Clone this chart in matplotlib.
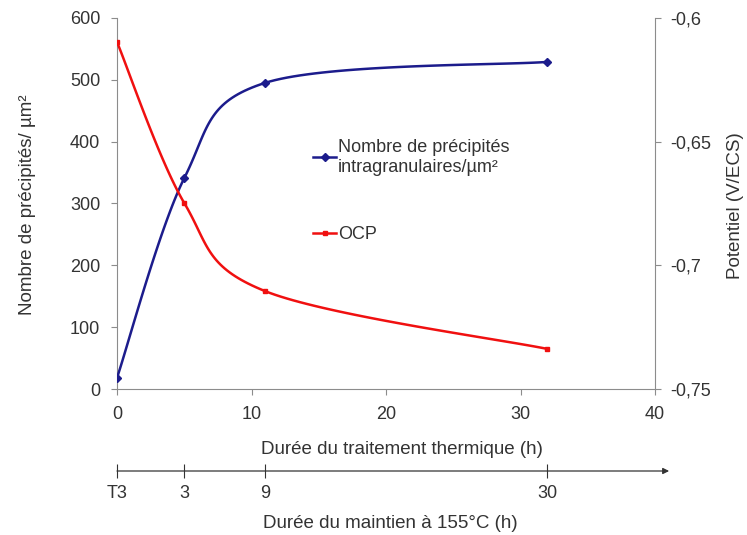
import numpy as np
import matplotlib.pyplot as plt
from matplotlib.ticker import FuncFormatter

plt.rcParams["font.family"] = ["Liberation Sans", "DejaVu Sans"]

# data
duree_h = [0, 5, 11, 32]
nb_precipites = [18, 341, 495, 529]
ocp = [-0.6097, -0.6748, -0.7104, -0.7338]
maintien_labels = ["T3", "3", "9", "30"]

BLUE = "#1c1c8c"
RED = "#f01010"
GREY = "#8c8c8c"
TXT = "#333333"
FS = 13


def smooth(x, y, n=40):
    """Excel-like smoothed line (Catmull-Rom bezier through the points)."""
    x = np.asarray(x, float)
    y = np.asarray(y, float)
    px = np.concatenate([[x[0]], x, [x[-1]]])
    py = np.concatenate([[y[0]], y, [y[-1]]])
    xs, ys = [], []
    t = np.linspace(0, 1, n)
    for i in range(1, len(px) - 2):
        p0 = np.array([px[i], py[i]])
        p3 = np.array([px[i + 1], py[i + 1]])
        p1 = p0 + (np.array([px[i + 1], py[i + 1]]) - np.array([px[i - 1], py[i - 1]])) / 6
        p2 = p3 - (np.array([px[i + 2], py[i + 2]]) - np.array([px[i], py[i]])) / 6
        b = ((1 - t) ** 3)[:, None] * p0 + (3 * (1 - t) ** 2 * t)[:, None] * p1 \
            + (3 * (1 - t) * t ** 2)[:, None] * p2 + (t ** 3)[:, None] * p3
        xs.append(b[:, 0])
        ys.append(b[:, 1])
    return np.concatenate(xs), np.concatenate(ys)


fig = plt.figure(figsize=(7.47, 5.35), dpi=100)
ax = fig.add_axes([117 / 747, 146 / 535, 538 / 747, 371 / 535])
ax2 = ax.twinx()

sx, sy = smooth(duree_h, nb_precipites)
ax.plot(sx, sy, color=BLUE, lw=1.8, zorder=3)
ax.plot(duree_h, nb_precipites, ls="none", marker="D", ms=4.5, color=BLUE, zorder=4)

rx, ry = smooth(duree_h, ocp)
ax2.plot(rx, ry, color=RED, lw=1.8)
ax2.plot(duree_h, ocp, ls="none", marker="s", ms=3.5, color=RED)

ax.set_xlim(0, 40)
ax.set_ylim(0, 600)
ax2.set_ylim(-0.75, -0.6)
ax.set_xticks([0, 10, 20, 30, 40])
ax.set_yticks(range(0, 601, 100))
ax2.set_yticks([-0.75, -0.7, -0.65, -0.6])
ax2.yaxis.set_major_formatter(FuncFormatter(lambda v, p: f"{v:g}".replace(".", ",")))

for a in (ax, ax2):
    for s in a.spines.values():
        s.set_color(GREY)
    a.spines["top"].set_visible(False)
    a.tick_params(colors=GREY, labelcolor=TXT, labelsize=FS, length=4, width=0.8)
ax.tick_params(axis="y", pad=8)
ax.tick_params(axis="x", pad=8)
ax2.tick_params(axis="y", pad=7)
ax.spines["right"].set_visible(False)
ax2.spines["left"].set_visible(False)
ax2.spines["bottom"].set_visible(False)

fig.text(28 / 747, 1 - 205 / 535, "Nombre de précipités/ µm²", rotation=90,
         ha="center", va="center", fontsize=FS + 0.5, color=TXT)
fig.text(736 / 747, 1 - 206 / 535, "Potentiel (V/ECS)", rotation=90,
         ha="center", va="center", fontsize=FS + 0.5, color=TXT)
fig.text(402 / 747, 1 - 450 / 535, "Durée du traitement thermique (h)",
         ha="center", va="center", fontsize=FS + 0.5, color=TXT)
fig.text(390 / 747, 1 - 524 / 535, "Durée du maintien à 155°C (h)",
         ha="center", va="center", fontsize=FS + 0.5, color=TXT)

# legend inside plot
h1, = ax.plot([], [], color=BLUE, lw=1.8, marker="D", ms=4)
h2, = ax.plot([], [], color=RED, lw=1.8, marker="s", ms=3)
leg = ax.legend([h1, h2], ["Nombre de précipités\nintragranulaires/µm²", "OCP"],
                loc="upper left", bbox_to_anchor=(0.364, 0.674), frameon=False,
                borderpad=0, borderaxespad=0, fontsize=FS, handlelength=1.3,
                handletextpad=0.1, labelspacing=2.8, labelcolor=TXT)
for t in leg.get_texts():
    t.set_linespacing(1.2)

# second time axis (duree du maintien)
ax3 = fig.add_axes([117 / 747, 64 / 535, 538 / 747, 0.001])
ax3.set_xlim(0, 40)
ax3.set_ylim(0, 1)
for s in ("top", "left", "right", "bottom"):
    ax3.spines[s].set_visible(False)
ax3.set_yticks([])
ax3.set_xticks(duree_h)
ax3.set_xticklabels(maintien_labels)
ax3.tick_params(axis="x", direction="inout", length=10, width=0.8, color=TXT,
                labelcolor=TXT, labelsize=FS, pad=5)
ax3.annotate("", xy=(41.05, 0), xytext=(0, 0), xycoords="data",
             arrowprops=dict(arrowstyle="-|>", color=TXT, lw=0.9,
                             mutation_scale=9, shrinkA=0, shrinkB=0),
             annotation_clip=False)

fig.savefig("out.png", dpi=100)
